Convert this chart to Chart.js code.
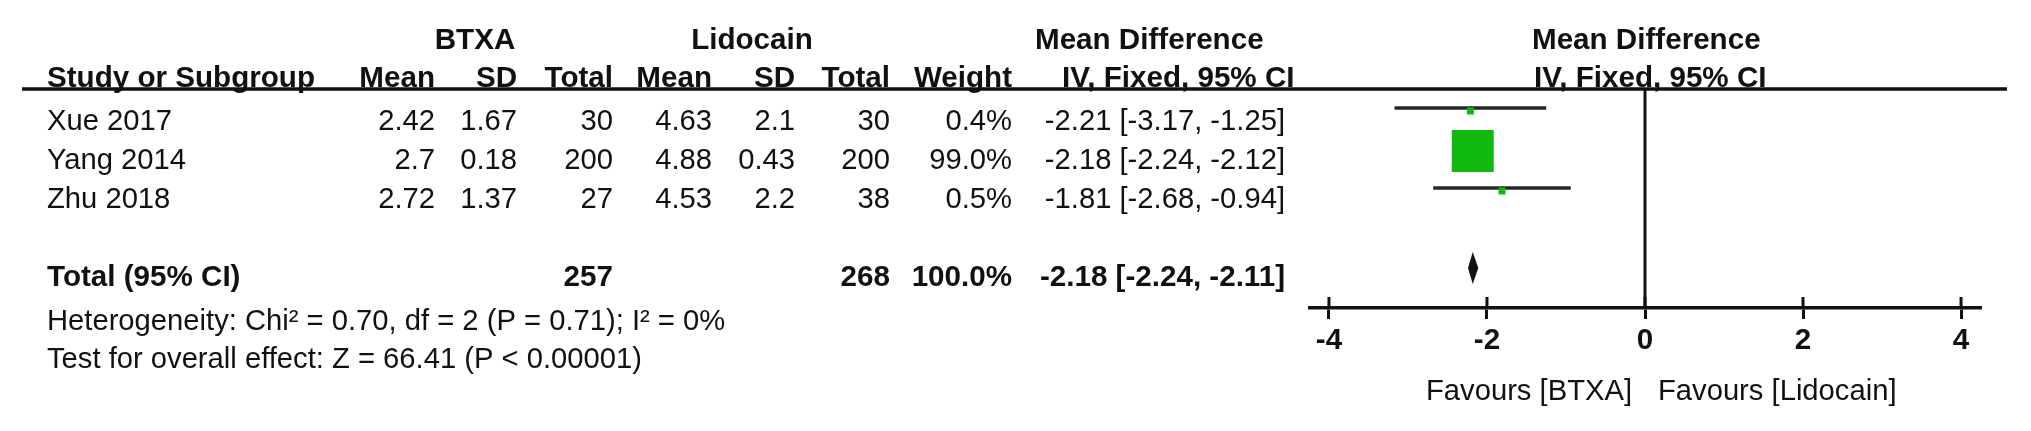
<!DOCTYPE html>
<html>
<head>
<meta charset="utf-8">
<script src="https://cdn.jsdelivr.net/npm/chart.js@4.4.1/dist/chart.umd.min.js"></script>
<style>
  html, body { margin: 0; padding: 0; background: #fff; overflow: hidden; }
  #wrap { width: 2031px; height: 431px; position: relative; }
</style>
</head>
<body>
<div id="wrap"><canvas id="forest" width="2031" height="431"></canvas></div>
<script>
// ---- Study data (BTXA vs Lidocain) ----
const studies    = ['Xue 2017', 'Yang 2014', 'Zhu 2018'];
const btxaMean   = [2.42, 2.7, 2.72];
const btxaSD     = [1.67, 0.18, 1.37];
const btxaTotal  = [30, 200, 27];
const lidoMean   = [4.63, 4.88, 4.53];
const lidoSD     = [2.1, 0.43, 2.2];
const lidoTotal  = [30, 200, 38];
const weights    = [0.4, 99.0, 0.5];
const meanDiff   = [-2.21, -2.18, -1.81];
const ciLower    = [-3.17, -2.24, -2.68];
const ciUpper    = [-1.25, -2.12, -0.94];

// ---- Pooled (fixed effect) result ----
const pooledMD      = -2.18;
const pooledLower   = -2.24;
const pooledUpper   = -2.11;
const pooledTotals  = [257, 268];
const pooledWeight  = 100.0;
const heterogeneityText = 'Heterogeneity: Chi\u00B2 = 0.70, df = 2 (P = 0.71); I\u00B2 = 0%';
const overallEffectText = 'Test for overall effect: Z = 66.41 (P < 0.00001)';

// ---- Axis ----
const axisTicks    = [-4, -2, 0, 2, 4];
const favoursLeft  = 'Favours [BTXA]';
const favoursRight = 'Favours [Lidocain]';

// ---- Styling / layout ----
const FONT = '"Liberation Sans", Arial, "Noto Sans", sans-serif';
const FS = 29.2, FS_BOLD = 29.6;
const INK = '#111';
const GREEN = '#10b910';
const TOTAL_ROW = studies.length + 2;          // blank row, then the pooled row
const COL = { study: 47, bMean: 435, bSD: 517, bTot: 613, lMean: 712, lSD: 795, lTot: 890, weight: 1012, ci: 1285 };
const ROW0 = 130, PITCH = 39;                  // text baselines of the study rows
const maxW = Math.max(...weights);

const fmt2 = v => v.toFixed(2);
const ciText = (m, lo, hi) => `${fmt2(m)} [${fmt2(lo)}, ${fmt2(hi)}]`;

// one horizontal segment per study CI
const ciSets = studies.map((s, i) => ({
  label: s,
  data: [{ x: ciLower[i], y: i + 1 }, { x: ciUpper[i], y: i + 1 }],
  showLine: true,
  borderColor: '#262626',
  borderWidth: 3.5,
  pointRadius: 0,
  order: 2
}));

// weighted squares (area proportional to weight)
const squareSet = {
  label: 'weight',
  data: meanDiff.map((m, i) => ({ x: m, y: i + 1 })),
  pointStyle: 'rect',
  pointRadius: weights.map(w => Math.max(7, 42 * Math.sqrt(w / maxW)) / (2 * Math.SQRT1_2)),
  backgroundColor: GREEN,
  borderWidth: 0,
  order: 1
};

function txt(ctx, s, x, y, align, bold) {
  ctx.font = (bold ? 'bold ' + FS_BOLD : FS) + 'px ' + FONT;
  ctx.textAlign = align;
  ctx.fillText(s, x, y);
}

const forestPlugin = {
  id: 'forestTable',
  beforeDatasetsDraw(chart) {
    const { ctx } = chart;
    const xs = chart.scales.x;
    const x0 = xs.getPixelForValue(0);
    ctx.save();
    ctx.strokeStyle = INK;
    // header rule
    ctx.lineWidth = 3.5;
    ctx.beginPath(); ctx.moveTo(22, 89); ctx.lineTo(2007, 89); ctx.stroke();
    // line of no effect
    ctx.lineWidth = 3;
    ctx.beginPath(); ctx.moveTo(x0, 89); ctx.lineTo(x0, chart.chartArea.bottom); ctx.stroke();
    // upper half of the axis tick marks
    axisTicks.forEach(v => {
      const px = xs.getPixelForValue(v);
      ctx.beginPath(); ctx.moveTo(px, chart.chartArea.bottom - 11); ctx.lineTo(px, chart.chartArea.bottom); ctx.stroke();
    });
    ctx.restore();
  },
  beforeDatasetDraw(chart, args) {
    if (chart.data.datasets[args.index] === squareSet) {
      chart.ctx.save();
      chart.ctx.translate(0, 3);
    }
  },
  afterDatasetDraw(chart, args) {
    if (chart.data.datasets[args.index] === squareSet) chart.ctx.restore();
  },
  afterDatasetsDraw(chart) {
    const { ctx } = chart;
    const xs = chart.scales.x, ys = chart.scales.y;
    // pooled diamond
    const yc = ys.getPixelForValue(TOTAL_ROW);
    ctx.save();
    ctx.fillStyle = INK;
    ctx.beginPath();
    ctx.moveTo(xs.getPixelForValue(pooledLower), yc);
    ctx.lineTo(xs.getPixelForValue(pooledMD), yc - 16);
    ctx.lineTo(xs.getPixelForValue(pooledUpper), yc);
    ctx.lineTo(xs.getPixelForValue(pooledMD), yc + 16);
    ctx.closePath();
    ctx.fill();
    ctx.restore();
  },
  afterDraw(chart) {
    const { ctx } = chart;
    const xs = chart.scales.x;
    const x0 = xs.getPixelForValue(0);
    ctx.save();
    ctx.fillStyle = INK;
    ctx.textBaseline = 'alphabetic';

    // group headers
    txt(ctx, 'BTXA', 475, 49, 'center', true);
    txt(ctx, 'Lidocain', 752, 49, 'center', true);
    txt(ctx, 'Mean Difference', 1035, 49, 'left', true);
    txt(ctx, 'Mean Difference', 1532, 49, 'left', true);

    // column headers
    txt(ctx, 'Study or Subgroup', COL.study, 87, 'left', true);
    txt(ctx, 'Mean', COL.bMean, 87, 'right', true);
    txt(ctx, 'SD', COL.bSD, 87, 'right', true);
    txt(ctx, 'Total', COL.bTot, 87, 'right', true);
    txt(ctx, 'Mean', COL.lMean, 87, 'right', true);
    txt(ctx, 'SD', COL.lSD, 87, 'right', true);
    txt(ctx, 'Total', COL.lTot, 87, 'right', true);
    txt(ctx, 'Weight', COL.weight, 87, 'right', true);
    txt(ctx, 'IV, Fixed, 95% CI', 1062, 87, 'left', true);
    txt(ctx, 'IV, Fixed, 95% CI', 1534, 87, 'left', true);

    // study rows
    studies.forEach((s, i) => {
      const y = ROW0 + PITCH * i;
      txt(ctx, s, COL.study, y, 'left', false);
      txt(ctx, String(btxaMean[i]), COL.bMean, y, 'right', false);
      txt(ctx, String(btxaSD[i]), COL.bSD, y, 'right', false);
      txt(ctx, String(btxaTotal[i]), COL.bTot, y, 'right', false);
      txt(ctx, String(lidoMean[i]), COL.lMean, y, 'right', false);
      txt(ctx, String(lidoSD[i]), COL.lSD, y, 'right', false);
      txt(ctx, String(lidoTotal[i]), COL.lTot, y, 'right', false);
      txt(ctx, weights[i].toFixed(1) + '%', COL.weight, y, 'right', false);
      txt(ctx, ciText(meanDiff[i], ciLower[i], ciUpper[i]), COL.ci, y, 'right', false);
    });

    // pooled row
    const yt = ROW0 + PITCH * (TOTAL_ROW - 1);
    txt(ctx, 'Total (95% CI)', COL.study, yt, 'left', true);
    txt(ctx, String(pooledTotals[0]), COL.bTot, yt, 'right', true);
    txt(ctx, String(pooledTotals[1]), COL.lTot, yt, 'right', true);
    txt(ctx, pooledWeight.toFixed(1) + '%', COL.weight, yt, 'right', true);
    txt(ctx, ciText(pooledMD, pooledLower, pooledUpper), COL.ci, yt, 'right', true);

    txt(ctx, heterogeneityText, COL.study, 330, 'left', false);
    txt(ctx, overallEffectText, COL.study, 368, 'left', false);

    // favours labels either side of the line of no effect
    txt(ctx, favoursLeft, x0 - 13, 400, 'right', false);
    txt(ctx, favoursRight, x0 + 13, 400, 'left', false);
    ctx.restore();
  }
};

new Chart(document.getElementById('forest'), {
  type: 'scatter',
  data: { datasets: [...ciSets, squareSet] },
  options: {
    responsive: false,
    animation: false,
    devicePixelRatio: 1,
    layout: { padding: { left: 1310, right: 51, top: 68, bottom: 73 } },
    plugins: { legend: { display: false }, tooltip: { enabled: false } },
    scales: {
      x: {
        type: 'linear',
        position: 'bottom',
        min: -4.24,
        max: 4.24,
        afterBuildTicks: s => { s.ticks = axisTicks.map(v => ({ value: v })); },
        afterFit: s => { s.height = 50; },
        grid: { display: true, drawOnChartArea: false, drawTicks: true, tickLength: 11, color: INK, lineWidth: 3 },
        border: { display: true, color: INK, width: 3.5 },
        ticks: {
          autoSkip: false,
          maxRotation: 0,
          padding: 4,
          color: INK,
          font: { family: FONT, size: FS_BOLD, weight: 'bold' },
          callback: v => String(v)
        }
      },
      y: { type: 'linear', min: 0, max: 6, reverse: true, display: false }
    }
  },
  plugins: [forestPlugin]
});
</script>
</body>
</html>
